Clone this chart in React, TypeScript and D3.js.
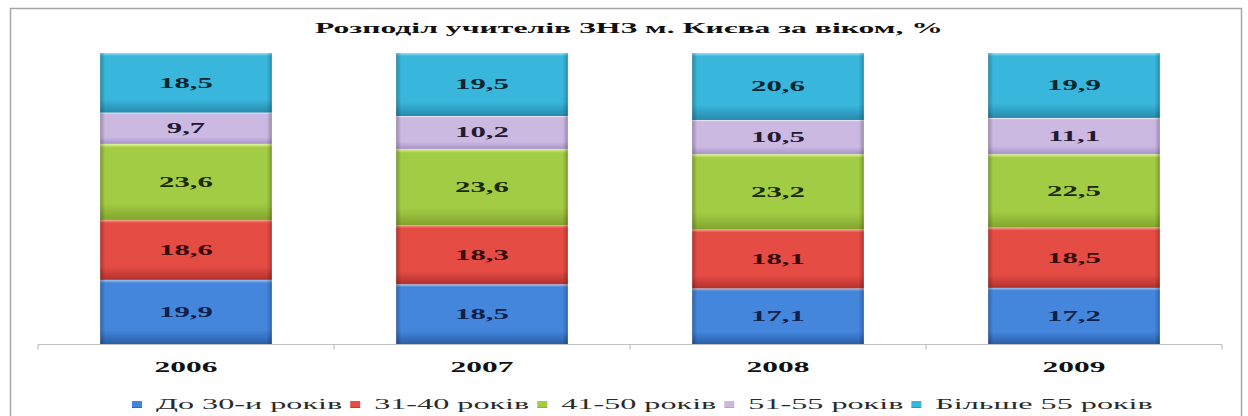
import React, { useEffect, useRef } from "react";
import * as d3 from "d3";

const years = ["2006", "2007", "2008", "2009"];
const seriesNames = ["До 30-и років", "31-40 років", "41-50 років", "51-55 років", "Більше 55 років"];
const under30 = [19.9, 18.5, 17.1, 17.2];
const age31to40 = [18.6, 18.3, 18.1, 18.5];
const age41to50 = [23.6, 23.6, 23.2, 22.5];
const age51to55 = [9.7, 10.2, 10.5, 11.1];
const over55 = [18.5, 19.5, 20.6, 19.9];
const seriesValues = [under30, age31to40, age41to50, age51to55, over55];
const title = "Розподіл учителів ЗНЗ м. Києва за віком, %";

const palette = [
  { hi: "#9cc4f0", top: "#4386dc", bot: "#2a5ea8", label: "#10204a" },
  { hi: "#f4a98f", top: "#e44c44", bot: "#b3312d", label: "#360a0a" },
  { hi: "#e2f59a", top: "#a2cc44", bot: "#82a42c", label: "#1a2a06" },
  { hi: "#f6f0fb", top: "#cbb9e2", bot: "#aa94ca", label: "#241a30" },
  { hi: "#8fe6f6", top: "#38b6dc", bot: "#278aac", label: "#0a2630" },
];

const W = 1248;
const H = 416;
const FONT = "'Liberation Serif', 'Times New Roman', serif";

export default function App() {
  const ref = useRef<SVGSVGElement | null>(null);

  useEffect(() => {
    const svg = d3.select(ref.current);
    svg.selectAll("*").remove();

    const defs = svg.append("defs");
    palette.forEach((p, i) => {
      const g = defs.append("linearGradient").attr("id", `grad${i}`).attr("x1", 0).attr("y1", 0).attr("x2", 0).attr("y2", 1);
      g.append("stop").attr("offset", "0%").attr("stop-color", p.hi);
      g.append("stop").attr("offset", "5%").attr("stop-color", p.top);
      g.append("stop").attr("offset", "78%").attr("stop-color", p.top);
      g.append("stop").attr("offset", "100%").attr("stop-color", p.bot);
    });
    const side = defs.append("linearGradient").attr("id", "side").attr("x1", 0).attr("y1", 0).attr("x2", 1).attr("y2", 0);
    side.append("stop").attr("offset", "0%").attr("stop-color", "#000").attr("stop-opacity", 0.25);
    side.append("stop").attr("offset", "3%").attr("stop-color", "#000").attr("stop-opacity", 0);
    side.append("stop").attr("offset", "97%").attr("stop-color", "#000").attr("stop-opacity", 0);
    side.append("stop").attr("offset", "100%").attr("stop-color", "#000").attr("stop-opacity", 0.25);

    svg.append("rect").attr("width", W).attr("height", H).attr("fill", "#fff");
    svg.append("rect").attr("x", 10.5).attr("y", 8.5).attr("width", 1231).attr("height", 430)
      .attr("fill", "none").attr("stroke", "#a6a6a6").attr("stroke-width", 1.5);

    // Title
    svg.append("text").attr("x", 629).attr("y", 33).attr("text-anchor", "middle")
      .attr("font-family", FONT).attr("font-weight", "bold").attr("font-size", 15.5)
      .attr("textLength", 628).attr("lengthAdjust", "spacingAndGlyphs").attr("fill", "#111")
      .text(title);

    const x = d3.scaleBand<string>().domain(years).range([38, 1222]).paddingInner(0.42).paddingOuter(0.21);
    const y = d3.scaleLinear().domain([0, 1]).range([344, 53]);

    const stackData = years.map((yr, j) => {
      const row: any = { year: yr };
      seriesValues.forEach((s, i) => (row[`s${i}`] = s[j]));
      return row;
    });
    const keys = seriesValues.map((_, i) => `s${i}`);
    const stacked = d3.stack<any>().keys(keys).offset(d3.stackOffsetExpand)(stackData);

    const sx = 2.05;
    stacked.forEach((layer, i) => {
      const g = svg.append("g");
      layer.forEach((d, j) => {
        const x0 = x(years[j])!;
        const y0 = y(d[1]);
        const h = y(d[0]) - y(d[1]);
        g.append("rect").attr("x", x0).attr("y", y0).attr("width", x.bandwidth()).attr("height", h).attr("fill", `url(#grad${i})`);
        g.append("rect").attr("x", x0).attr("y", y0).attr("width", x.bandwidth()).attr("height", h).attr("fill", "url(#side)");
        const label = seriesValues[i][j].toFixed(1).replace(".", ",");
        g.append("g").attr("transform", `translate(${x0 + x.bandwidth() / 2},${y0 + h / 2 + 5})`)
          .append("text").attr("transform", `scale(${sx},1)`).attr("text-anchor", "middle")
          .attr("font-family", FONT).attr("font-weight", "bold").attr("font-size", 15)
          .attr("fill", palette[i].label).text(label);
      });
    });

    // Axis
    const axisY = 344.5;
    svg.append("line").attr("x1", 38).attr("x2", 1222).attr("y1", axisY).attr("y2", axisY).attr("stroke", "#c0c0c0").attr("stroke-width", 1.2);
    const bounds = [38, ...years.map((yr) => x(yr)! + x.bandwidth() + (x.step() - x.bandwidth()) / 2)];
    bounds.forEach((bx) => {
      svg.append("line").attr("x1", bx).attr("x2", bx).attr("y1", axisY).attr("y2", axisY + 5).attr("stroke", "#c0c0c0").attr("stroke-width", 1.2);
    });
    years.forEach((yr) => {
      svg.append("g").attr("transform", `translate(${x(yr)! + x.bandwidth() / 2},372)`)
        .append("text").attr("transform", `scale(2.1,1)`).attr("text-anchor", "middle")
        .attr("font-family", FONT).attr("font-weight", "bold").attr("font-size", 15)
        .attr("fill", "#111").text(yr);
    });

    // Legend
    const legend = svg.append("g");
    let cx = 132;
    const lsx = 2.22;
    seriesNames.forEach((name, i) => {
      legend.append("rect").attr("x", cx).attr("y", 401).attr("width", 10).attr("height", 7)
        .attr("fill", `url(#grad${i})`);
      const tg = legend.append("g").attr("transform", `translate(${cx + 24},409)`);
      const t = tg.append("text").attr("transform", `scale(${lsx},1)`)
        .attr("font-family", FONT).attr("font-size", 14.5).attr("fill", "#2a2a2a").text(name);
      const w = (t.node() as SVGTextElement).getComputedTextLength() * lsx;
      cx = cx + 24 + w + 8;
    });
  }, []);

  return (
    <svg ref={ref} width={W} height={H} style={{ position: "absolute", left: 0, top: 0, display: "block" }} />
  );
}
